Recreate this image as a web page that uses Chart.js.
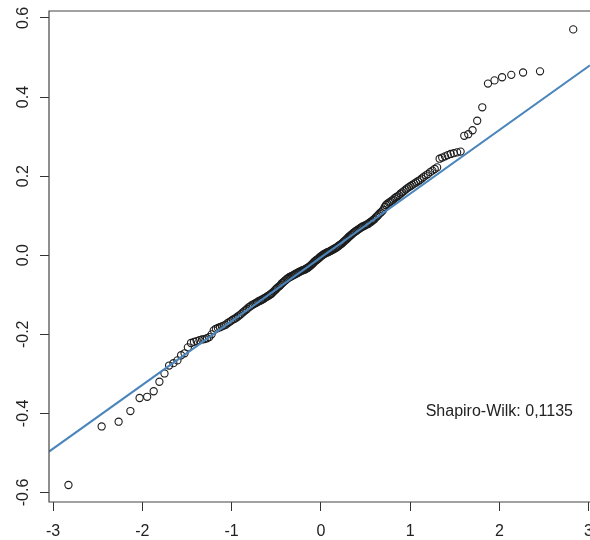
<!DOCTYPE html>
<html>
<head>
<meta charset="utf-8">
<script src="https://cdn.jsdelivr.net/npm/chart.js@4"></script>
<style>
  html, body { margin: 0; padding: 0; background: #fff; overflow: hidden; }
  #wrap { position: absolute; left: 0; top: 0; width: 590px; height: 540px; }
</style>
</head>
<body>
<div id="wrap"><canvas id="qq" width="590" height="540"></canvas></div>
<script>
// normal Q-Q plot: theoretical quantiles vs sample residuals
const theoretical = [
  -2.828, -2.456, -2.266, -2.134, -2.031, -1.946, -1.873, -1.809, -1.752, -1.700,
  -1.652, -1.607, -1.566, -1.527, -1.490, -1.455, -1.422, -1.391, -1.360, -1.331,
  -1.303, -1.276, -1.250, -1.224, -1.200, -1.176, -1.153, -1.131, -1.109, -1.088,
  -1.067, -1.046, -1.026, -1.006, -0.987, -0.967, -0.949, -0.930, -0.912, -0.895,
  -0.877, -0.860, -0.843, -0.827, -0.810, -0.794, -0.778, -0.762, -0.746, -0.731,
  -0.716, -0.700, -0.686, -0.671, -0.656, -0.642, -0.627, -0.613, -0.599, -0.585,
  -0.571, -0.557, -0.544, -0.530, -0.516, -0.503, -0.490, -0.476, -0.463, -0.450,
  -0.437, -0.424, -0.412, -0.399, -0.386, -0.374, -0.361, -0.349, -0.336, -0.324,
  -0.311, -0.299, -0.287, -0.275, -0.262, -0.250, -0.238, -0.226, -0.214, -0.202,
  -0.190, -0.178, -0.166, -0.154, -0.142, -0.130, -0.118, -0.106, -0.094, -0.082,
  -0.071, -0.059, -0.047, -0.035, -0.024, -0.012, 0.000, 0.012, 0.024, 0.035,
  0.047, 0.059, 0.071, 0.082, 0.094, 0.106, 0.118, 0.130, 0.142, 0.154,
  0.166, 0.178, 0.190, 0.202, 0.214, 0.226, 0.238, 0.250, 0.262, 0.275,
  0.287, 0.299, 0.311, 0.324, 0.336, 0.349, 0.361, 0.374, 0.386, 0.399,
  0.412, 0.424, 0.437, 0.450, 0.463, 0.476, 0.490, 0.503, 0.516, 0.530,
  0.544, 0.557, 0.571, 0.585, 0.599, 0.613, 0.627, 0.642, 0.656, 0.671,
  0.686, 0.700, 0.716, 0.731, 0.746, 0.762, 0.778, 0.794, 0.810, 0.827,
  0.843, 0.860, 0.877, 0.895, 0.912, 0.930, 0.949, 0.967, 0.987, 1.006,
  1.026, 1.046, 1.067, 1.088, 1.109, 1.131, 1.153, 1.176, 1.200, 1.224,
  1.250, 1.276, 1.303, 1.331, 1.360, 1.391, 1.422, 1.455, 1.490, 1.527,
  1.566, 1.607, 1.652, 1.700, 1.752, 1.809, 1.873, 1.946, 2.031, 2.134,
  2.266, 2.456, 2.828
];

const sample = [
  -0.581, -0.433, -0.421, -0.394, -0.361, -0.358, -0.344, -0.320, -0.299, -0.279,
  -0.273, -0.266, -0.253, -0.248, -0.233, -0.222, -0.219, -0.217, -0.215, -0.213,
  -0.212, -0.210, -0.207, -0.200, -0.190, -0.186, -0.184, -0.182, -0.180, -0.178,
  -0.176, -0.172, -0.169, -0.166, -0.163, -0.161, -0.158, -0.155, -0.152, -0.149,
  -0.145, -0.142, -0.139, -0.136, -0.132, -0.130, -0.127, -0.125, -0.123, -0.121,
  -0.119, -0.117, -0.115, -0.114, -0.112, -0.110, -0.108, -0.106, -0.104, -0.102,
  -0.100, -0.098, -0.095, -0.092, -0.089, -0.086, -0.083, -0.080, -0.078, -0.075,
  -0.071, -0.069, -0.066, -0.064, -0.061, -0.059, -0.057, -0.055, -0.054, -0.052,
  -0.051, -0.049, -0.048, -0.046, -0.045, -0.043, -0.042, -0.040, -0.039, -0.038,
  -0.037, -0.036, -0.034, -0.033, -0.031, -0.029, -0.027, -0.024, -0.022, -0.019,
  -0.016, -0.014, -0.012, -0.010, -0.008, -0.005, -0.003, -0.001, 0.001, 0.003,
  0.004, 0.006, 0.007, 0.008, 0.009, 0.011, 0.012, 0.014, 0.015, 0.017,
  0.018, 0.020, 0.022, 0.024, 0.026, 0.028, 0.030, 0.033, 0.035, 0.038,
  0.040, 0.043, 0.046, 0.048, 0.051, 0.053, 0.056, 0.058, 0.060, 0.062,
  0.064, 0.066, 0.068, 0.070, 0.072, 0.073, 0.075, 0.076, 0.078, 0.079,
  0.082, 0.084, 0.086, 0.089, 0.091, 0.095, 0.098, 0.101, 0.105, 0.108,
  0.111, 0.115, 0.122, 0.127, 0.130, 0.133, 0.135, 0.138, 0.140, 0.144,
  0.147, 0.149, 0.152, 0.156, 0.159, 0.162, 0.166, 0.169, 0.172, 0.175,
  0.178, 0.181, 0.184, 0.187, 0.190, 0.194, 0.198, 0.202, 0.205, 0.210,
  0.214, 0.218, 0.222, 0.244, 0.247, 0.250, 0.253, 0.256, 0.258, 0.260,
  0.262, 0.302, 0.306, 0.316, 0.340, 0.374, 0.434, 0.442, 0.450, 0.456,
  0.462, 0.465, 0.571
];

// reference line (qqline) end points, at the edges of the plot
const qqLineX = [-3.046, 3.016];
const qqLineY = [-0.4965, 0.480];

const xTickValues = [-3, -2, -1, 0, 1, 2, 3];
const yTickValues = [-0.6, -0.4, -0.2, 0.0, 0.2, 0.4, 0.6];

const statLabel = 'Shapiro-Wilk: 0,1135';
const statX = 2.0;
const statY = -0.396;

const FONT = '"Liberation Sans", Arial, Helvetica, sans-serif';

const points = theoretical.map((x, i) => ({ x: x, y: sample[i] }));
const linePts = qqLineX.map((x, i) => ({ x: x, y: qqLineY[i] }));

// box is cut off on the right side of the picture, so only left/top/bottom
const framePlugin = {
  id: 'frame',
  afterDatasetsDraw(chart) {
    const { ctx, chartArea: a, scales } = chart;
    ctx.save();
    ctx.strokeStyle = '#444';
    ctx.lineWidth = 1.2;
    ctx.beginPath();
    ctx.moveTo(chart.width, a.top);
    ctx.lineTo(a.left, a.top);
    ctx.lineTo(a.left, a.bottom);
    ctx.lineTo(chart.width, a.bottom);
    ctx.stroke();
    ctx.fillStyle = '#222';
    ctx.font = '16px ' + FONT;
    ctx.textAlign = 'center';
    ctx.textBaseline = 'middle';
    ctx.fillText(statLabel, scales.x.getPixelForValue(statX), scales.y.getPixelForValue(statY));
    ctx.restore();
  }
};

// fixed axis sizes, no extra room for labels sticking out at the ends
function fixSize(prop, size) {
  return scale => {
    scale[prop] = size;
    scale.paddingLeft = 0;
    scale.paddingRight = 0;
    scale.paddingTop = 0;
    scale.paddingBottom = 0;
  };
}

new Chart(document.getElementById('qq'), {
  type: 'scatter',
  data: {
    datasets: [
      {
        type: 'line',
        data: linePts,
        borderColor: '#4a86bb',
        borderWidth: 2,
        pointRadius: 0,
        fill: false,
        order: 0
      },
      {
        data: points,
        pointRadius: 3.6,
        pointBorderWidth: 1.1,
        borderColor: '#1c1c1c',
        backgroundColor: 'rgba(0,0,0,0)',
        order: 1
      }
    ]
  },
  options: {
    responsive: false,
    animation: false,
    devicePixelRatio: 1,
    layout: { autoPadding: false, padding: { left: 0, top: 11, right: 0, bottom: 0 } },
    plugins: {
      legend: { display: false },
      tooltip: { enabled: false }
    },
    scales: {
      x: {
        type: 'linear',
        position: 'bottom',
        min: -3.046,
        max: 3.016,
        afterBuildTicks: scale => { scale.ticks = xTickValues.map(v => ({ value: v })); },
        afterFit: fixSize('height', 38),
        grid: { drawOnChartArea: false, drawTicks: true, tickLength: 9, tickColor: '#333', tickWidth: 1 },
        border: { display: false },
        ticks: {
          color: '#222',
          padding: 11,
          maxRotation: 0,
          font: { family: FONT, size: 16 },
          callback: v => String(v)
        }
      },
      y: {
        type: 'linear',
        position: 'left',
        min: -0.624,
        max: 0.6175,
        afterBuildTicks: scale => { scale.ticks = yTickValues.map(v => ({ value: v })); },
        afterFit: fixSize('width', 49),
        grid: { drawOnChartArea: false, drawTicks: true, tickLength: 9, tickColor: '#333', tickWidth: 1 },
        border: { display: false },
        ticks: {
          color: '#222',
          padding: 3,
          minRotation: 90,
          maxRotation: 90,
          crossAlign: 'center',
          font: { family: FONT, size: 16 },
          callback: v => v.toFixed(1)
        }
      }
    }
  },
  plugins: [framePlugin]
});
</script>
</body>
</html>
